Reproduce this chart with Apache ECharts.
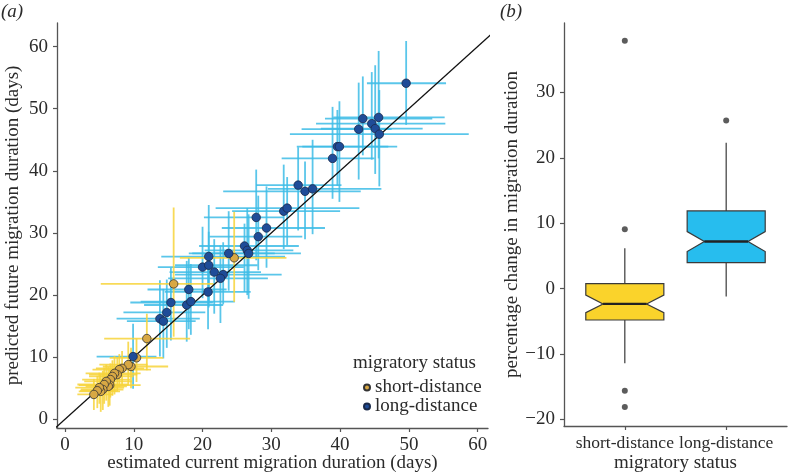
<!DOCTYPE html>
<html>
<head>
<meta charset="utf-8">
<script src="https://cdn.jsdelivr.net/npm/echarts@6/dist/echarts.min.js"></script>
<style>html,body{margin:0;padding:0;background:#fff}#c{width:792px;height:475px}</style>
</head>
<body>
<div id="c"></div>
<script>
// ---- data: panel (a) ---- [x, y, xlo, xhi, ylo, yhi]
const longDistance = [
  [49.6, 54.1, 43.9, 55.4, 47.4, 60.9],
  [43.3, 48.4, 37.8, 53.4, 42.5, 55.2],
  [45.6, 48.6, 39.0, 55.2, 42.0, 59.3],
  [44.6, 47.6, 36.5, 55.3, 41.8, 55.9],
  [42.7, 46.7, 34.4, 47.5, 38.6, 54.2],
  [45.1, 46.8, 37.2, 52.0, 39.5, 57.0],
  [45.7, 45.9, 32.7, 58.7, 37.5, 53.0],
  [39.6, 43.9, 33.7, 48.3, 37.6, 49.8],
  [39.9, 43.9, 34.5, 47.0, 35.0, 51.2],
  [38.9, 42.0, 31.5, 45.0, 35.5, 50.3],
  [33.9, 37.7, 27.8, 40.2, 30.4, 43.8],
  [34.9, 36.7, 23.0, 43.0, 29.0, 41.5],
  [36.0, 37.1, 29.5, 46.0, 29.8, 45.0],
  [31.8, 33.5, 24.3, 40.0, 27.4, 41.0],
  [32.3, 34.0, 21.9, 42.8, 28.0, 39.0],
  [27.8, 32.5, 20.2, 31.8, 25.6, 40.2],
  [29.3, 30.8, 22.8, 37.8, 24.4, 37.5],
  [28.1, 29.4, 21.0, 34.5, 24.0, 36.0],
  [26.1, 27.9, 19.5, 34.0, 20.5, 31.5],
  [26.5, 27.2, 20.3, 33.2, 20.0, 34.0],
  [26.7, 26.7, 18.0, 34.3, 19.4, 33.0],
  [23.8, 26.7, 18.5, 30.5, 20.7, 33.5],
  [20.9, 26.2, 14.0, 32.0, 18.9, 34.5],
  [20.0, 24.5, 13.5, 26.0, 19.5, 31.0],
  [20.9, 24.8, 16.0, 28.0, 18.0, 30.2],
  [21.7, 23.7, 15.2, 28.5, 17.0, 29.0],
  [23.0, 23.3, 16.0, 31.5, 18.5, 28.5],
  [22.6, 22.7, 15.0, 29.5, 15.5, 28.0],
  [20.8, 20.5, 14.5, 27.0, 14.5, 26.4],
  [18.0, 20.9, 12.0, 23.5, 14.5, 26.0],
  [15.4, 18.8, 9.5, 21.5, 12.7, 24.4],
  [17.7, 18.4, 11.5, 23.0, 12.5, 25.5],
  [18.3, 18.95, 11.0, 24.7, 13.6, 25.0],
  [14.8, 17.2, 8.5, 20.4, 11.5, 22.5],
  [13.8, 16.2, 7.5, 19.6, 10.1, 22.4],
  [14.3, 15.8, 9.0, 19.0, 9.8, 21.0],
  [9.9, 10.1, 4.6, 13.3, 4.9, 15.4]
];
const shortDistance = [
  [24.6, 26.0, 16.7, 32.2, 18.9, 33.4],
  [15.8, 21.8, 5.2, 21.6, 13.3, 34.1],
  [11.9, 13.0, 5.7, 18.2, 7.9, 17.0],
  [10.4, 9.9, 6.5, 14.3, 6.0, 13.0],
  [9.6, 8.5, 5.5, 15.0, 5.0, 11.5],
  [9.2, 8.8, 5.0, 12.0, 5.5, 12.5],
  [8.3, 8.2, 4.5, 11.5, 5.5, 11.0],
  [7.9, 8.0, 4.0, 12.5, 5.2, 10.5],
  [7.6, 7.2, 3.5, 10.5, 4.5, 10.0],
  [7.2, 7.4, 3.0, 11.0, 4.0, 10.2],
  [6.9, 6.9, 3.5, 10.0, 3.8, 9.5],
  [6.6, 6.4, 2.5, 9.5, 3.5, 9.0],
  [6.5, 5.5, 2.0, 11.0, 2.2, 8.0],
  [6.3, 5.3, 3.0, 9.0, 2.0, 8.5],
  [6.0, 6.1, 2.8, 9.8, 3.0, 8.8],
  [5.7, 5.6, 1.8, 9.2, 2.5, 8.3],
  [5.5, 4.8, 2.3, 8.5, 1.5, 7.8],
  [5.2, 4.5, 2.0, 8.0, 1.2, 7.2],
  [5.0, 5.1, 1.5, 8.6, 2.5, 7.5],
  [4.7, 4.6, 2.2, 7.5, 1.8, 7.0],
  [4.2, 4.0, 1.8, 7.0, 1.5, 6.5]
];
const identityLine = [[-2, -2], [63, 63]];
const ticksA = [0, 10, 20, 30, 40, 50, 60];

// ---- data: panel (b) ----
const boxCategories = ['short-distance', 'long-distance'];
// [position, lowerWhisker, q1, notchLow, median, notchHigh, q3, upperWhisker]
const boxStats = [
  [1, -11.4, -4.8, -3.67, -2.34, -0.98, 0.77, 6.17],
  [2, -1.22, 3.98, 5.66, 7.2, 8.72, 11.88, 22.3]
];
const boxOutliers = [
  [1, 37.9], [1, 9.08], [1, -15.6], [1, -18.1],
  [2, 25.7]
];
const ticksB = [-20, -10, 0, 10, 20, 30];

const FONT = '"Liberation Serif", "DejaVu Serif", serif';
const FS = 19;
const TXT = '#2b2b2b';
const AX = '#555';
const yellowBar = '#F7D43A', blueBar = '#3DBCE6';
const yellowBox = '#FAD32B', blueBox = '#27BDEE';

function errRender(color) {
  return function (params, api) {
    const c = api.coord([api.value(0), api.value(1)]);
    const xl = api.coord([api.value(2), api.value(1)]);
    const xh = api.coord([api.value(3), api.value(1)]);
    const yl = api.coord([api.value(0), api.value(4)]);
    const yh = api.coord([api.value(0), api.value(5)]);
    const st = { stroke: color, lineWidth: 1.8, opacity: 0.85 };
    return {
      type: 'group',
      children: [
        { type: 'line', shape: { x1: xl[0], y1: c[1], x2: xh[0], y2: c[1] }, style: st },
        { type: 'line', shape: { x1: c[0], y1: yl[1], x2: c[0], y2: yh[1] }, style: st }
      ]
    };
  };
}

function boxRender(params, api) {
  const p = api.value(0);
  const hw = 0.385, nw = 0.215;
  const colors = [yellowBox, blueBox];
  const fill = colors[params.dataIndex];
  const P = (dx, v) => api.coord([p + dx, v]);
  const wLo = api.value(1), q1 = api.value(2), nLo = api.value(3), med = api.value(4),
        nHi = api.value(5), q3 = api.value(6), wHi = api.value(7);
  const pts = [
    P(-hw, q3), P(hw, q3), P(hw, nHi), P(nw, med), P(hw, nLo), P(hw, q1),
    P(-hw, q1), P(-hw, nLo), P(-nw, med), P(-hw, nHi)
  ];
  const a = P(0, wHi), b = P(0, q3), c = P(0, q1), d = P(0, wLo);
  const m1 = P(-nw, med), m2 = P(nw, med);
  const ls = { stroke: '#3a3a3a', lineWidth: 1.2 };
  return {
    type: 'group',
    children: [
      { type: 'line', shape: { x1: a[0], y1: a[1], x2: b[0], y2: b[1] }, style: ls },
      { type: 'line', shape: { x1: c[0], y1: c[1], x2: d[0], y2: d[1] }, style: ls },
      { type: 'polygon', shape: { points: pts }, style: { fill: fill, stroke: '#3a3a3a', lineWidth: 1.2 } },
      { type: 'line', shape: { x1: m1[0], y1: m1[1], x2: m2[0], y2: m2[1] }, style: { stroke: '#222', lineWidth: 2.4 } }
    ]
  };
}

function axisBase(extra) {
  return Object.assign({
    type: 'value',
    splitLine: { show: false },
    axisLine: { show: true, onZero: false, lineStyle: { color: AX, width: 1.3 } },
    nameLocation: 'middle',
    nameMoveOverlap: false,
    nameTextStyle: { color: TXT, fontFamily: FONT, fontSize: FS }
  }, extra);
}
function ticks(vals) {
  return { show: true, length: 4, customValues: vals, lineStyle: { color: AX, width: 1.2 } };
}
function labels(vals, margin, fmt, size) {
  const o = { color: TXT, fontFamily: FONT, fontSize: size || FS, margin: margin,
              customValues: vals, hideOverlap: false, interval: 0 };
  if (fmt) o.formatter = fmt;
  return o;
}

const chart = echarts.init(document.getElementById('c'), null, { renderer: 'canvas' });
chart.setOption({
  animation: false,
  backgroundColor: '#fff',
  grid: [
    { left: 57, top: 23, width: 431, height: 405, containLabel: false, outerBoundsMode: 'none' },
    { left: 564, top: 23, width: 223, height: 403, containLabel: false, outerBoundsMode: 'none' }
  ],
  xAxis: [
    axisBase({
      gridIndex: 0, min: -1.16, max: 61.5,
      name: 'estimated current migration duration (days)', nameGap: 26,
      axisTick: ticks(ticksA), axisLabel: labels(ticksA, 8)
    }),
    axisBase({
      gridIndex: 1, min: 0.4, max: 2.6,
      name: 'migratory status', nameGap: 28,
      axisTick: ticks([1, 2]),
      axisLabel: labels([1, 2], 8, v => boxCategories[Math.round(v) - 1], 17.5)
    })
  ],
  yAxis: [
    axisBase({
      gridIndex: 0, min: -1.4, max: 63.8,
      name: 'predicted future migration duration (days)', nameGap: 34,
      axisTick: ticks(ticksA), axisLabel: labels(ticksA, 9)
    }),
    axisBase({
      gridIndex: 1, min: -21, max: 40.6,
      name: 'percentage change in migration duration', nameGap: 42,
      axisTick: ticks(ticksB),
      axisLabel: labels(ticksB, 9, v => (v < 0 ? '\u2212' + Math.abs(v) : String(v)))
    })
  ],
  legend: {
    orient: 'vertical', left: 363, top: 378, itemWidth: 6, itemHeight: 6, itemGap: 0,
    icon: 'circle', padding: 0,
    textStyle: { color: TXT, fontFamily: FONT, fontSize: FS },
    data: ['short-distance', 'long-distance']
  },
  graphic: [
    { type: 'text', left: 353, top: 354, style: { text: 'migratory status', font: FS + 'px ' + FONT, fill: TXT } },
    { type: 'text', left: 1, top: 2, style: { text: '(a)', font: 'italic ' + FS + 'px ' + FONT, fill: TXT } },
    { type: 'text', left: 500, top: 2, style: { text: '(b)', font: 'italic ' + FS + 'px ' + FONT, fill: TXT } }
  ],
  series: [
    {
      type: 'custom', name: 'errLong', xAxisIndex: 0, yAxisIndex: 0,
      renderItem: errRender(blueBar), data: longDistance, silent: true, z: 1,
      encode: { x: [0, 2, 3], y: [1, 4, 5] }
    },
    {
      type: 'custom', name: 'errShort', xAxisIndex: 0, yAxisIndex: 0,
      renderItem: errRender(yellowBar), data: shortDistance, silent: true, z: 2,
      encode: { x: [0, 2, 3], y: [1, 4, 5] }
    },
    {
      type: 'line', xAxisIndex: 0, yAxisIndex: 0, data: identityLine, symbol: 'none',
      lineStyle: { color: '#111', width: 1.3 }, z: 3, clip: true, silent: true
    },
    {
      type: 'scatter', name: 'short-distance', xAxisIndex: 0, yAxisIndex: 0,
      data: shortDistance.map(d => [d[0], d[1]]), symbolSize: 8.5, z: 4,
      itemStyle: { color: '#D8A844', borderColor: '#333', borderWidth: 0.8, opacity: 1 }
    },
    {
      type: 'scatter', name: 'long-distance', xAxisIndex: 0, yAxisIndex: 0,
      data: longDistance.map(d => [d[0], d[1]]), symbolSize: 8.5, z: 5,
      itemStyle: { color: '#1F4C98', borderColor: '#1a2a4a', borderWidth: 0.8, opacity: 1 }
    },
    {
      type: 'custom', name: 'box', xAxisIndex: 1, yAxisIndex: 1,
      renderItem: boxRender, data: boxStats, z: 2,
      encode: { x: 0, y: [1, 2, 3, 4, 5, 6, 7] }
    },
    {
      type: 'scatter', name: 'outliers', xAxisIndex: 1, yAxisIndex: 1,
      data: boxOutliers, symbolSize: 6, itemStyle: { color: '#333' }, z: 3
    }
  ]
});
</script>
</body>
</html>
